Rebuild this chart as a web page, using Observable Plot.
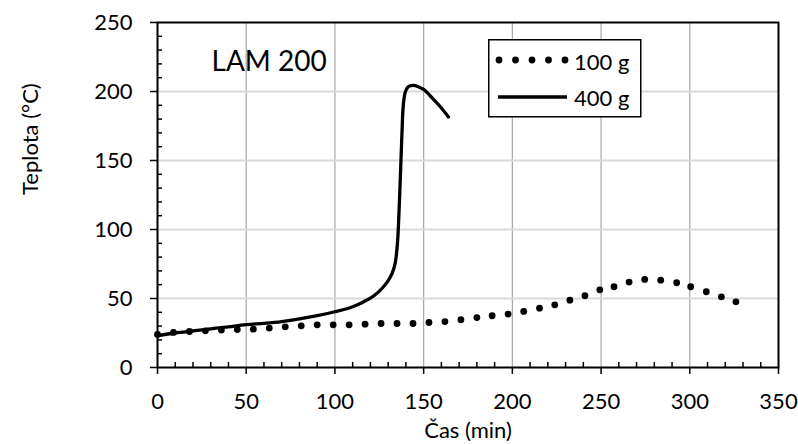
<!DOCTYPE html>
<html><head><meta charset="utf-8">
<script src="https://cdn.jsdelivr.net/npm/d3@7"></script>
<script src="https://cdn.jsdelivr.net/npm/@observablehq/plot@0.6"></script>
<style>
body{margin:0;background:#fff;font-family:Lato,sans-serif;}
#wrap{position:relative;width:798px;height:444px;}
#legend{position:absolute;left:488px;top:39px;}
</style></head><body><div id="wrap"></div>
<script>
// 100 g series (dotted)
const time100 = [0, 9, 18, 27, 36, 45, 54, 63, 72, 81, 90, 99, 108, 117, 126, 135, 144, 153, 162, 171, 180, 188.6, 197.6, 206.4, 215.3, 223.9, 232.4, 240.9, 249.3, 257.3, 265.8, 274.6, 283.6, 292.6, 300.5, 309.3, 317.8, 326];
const temp100 = [24, 25.4, 26.1, 26.6, 27.1, 27.5, 27.8, 28.6, 29.5, 30.2, 30.9, 30.9, 30.9, 31.4, 31.9, 31.9, 31.9, 32.6, 33.3, 34.6, 36.2, 37.5, 38.7, 40.6, 43, 45.4, 48.8, 52, 56.3, 58.5, 61.9, 63.8, 63.3, 61.4, 58.5, 54.9, 51.2, 47.6];
// 400 g series (solid)
const time400 = [0, 10, 20, 30, 40, 50, 60, 70, 80, 90, 100, 110, 116, 122, 127, 130.5, 133, 134.5, 135.5, 136.5, 137.5, 138.3, 139.2, 140.5, 142, 144, 147, 150, 155, 160, 164];
const temp400 = [23, 25, 26.5, 28, 29.5, 31, 32, 33.3, 35.2, 37.6, 40.4, 44, 47.5, 52, 58, 64, 71, 80, 95, 125, 160, 186, 197, 202, 204, 204.5, 203.5, 201.5, 195, 188, 181.5];

const xTicks = [0, 50, 100, 150, 200, 250, 300, 350];
const yTicks = [0, 50, 100, 150, 200, 250];
const xMinor = d3.range(0, 351, 10).filter(v => v % 50 !== 0);
const yMinor = d3.range(0, 251, 10).filter(v => v % 50 !== 0);
const xGrid = xTicks.filter(v => v > 0 && v < 350);
const yGrid = yTicks.filter(v => v > 0 && v < 250);

const d100 = time100.map((t, i) => ({t, v: temp100[i]}));
const d400 = time400.map((t, i) => ({t, v: temp400[i]}));

const chart = Plot.plot({
  width: 798, height: 444,
  marginLeft: 157, marginRight: 20, marginTop: 22, marginBottom: 77,
  x: {domain: [0, 350], label: null},
  y: {domain: [0, 250], label: null},
  style: {fontFamily: "Lato", fontSize: "22px", color: "#000", background: "#fff"},
  marks: [
    Plot.gridX(xGrid, {stroke: "#a6a6a6", strokeOpacity: 1, strokeWidth: 1.2}),
    Plot.gridY(yGrid, {stroke: "#d9d9d9", strokeOpacity: 1, strokeWidth: 2}),
    Plot.frame({stroke: "#000", strokeWidth: 2}),
    Plot.axisX(xMinor, {tickSize: -5, tickFormat: () => "", strokeWidth: 1.5, label: null}),
    Plot.axisX(xTicks, {tickSize: 7, tickPadding: 19, strokeWidth: 1.5, label: null, fontSize: 22}),
    Plot.axisY(yMinor, {tickSize: -5, tickFormat: () => "", strokeWidth: 1.5, label: null}),
    Plot.axisY(yTicks, {tickSize: 7, tickPadding: 18, strokeWidth: 1.5, label: null, fontSize: 22}),
    Plot.line(d400, {x: "t", y: "v", stroke: "#000", strokeWidth: 3.3, curve: "monotone-x"}),
    Plot.dot(d100, {x: "t", y: "v", r: 3.4, fill: "#000", stroke: null}),
    Plot.text(["LAM 200"], {frameAnchor: "top-left", dx: 54, dy: 29, textAnchor: "start", fontSize: 28}),
    Plot.text(["Čas (min)"], {frameAnchor: "bottom", dy: 70, fontSize: 22}),
    Plot.text(["Teplota (°C)"], {frameAnchor: "left", dx: -127, rotate: -90, fontSize: 22})
  ]
});
const wrap = document.getElementById("wrap");
wrap.appendChild(chart);

// legend
const ns = "http://www.w3.org/2000/svg";
const lg = document.createElementNS(ns, "svg");
lg.setAttribute("id", "legend");
lg.setAttribute("width", 154);
lg.setAttribute("height", 79);
lg.innerHTML = `
<rect x="0.75" y="0.75" width="152" height="77" fill="#fff" stroke="#000" stroke-width="1.5"/>
${[11, 27.5, 44, 60.5, 77].map(x => `<circle cx="${x}" cy="21" r="3.4" fill="#000"/>`).join("")}
<line x1="10" y1="58" x2="79" y2="58" stroke="#000" stroke-width="3.3"/>
<text x="86" y="22" dominant-baseline="central" font-family="Lato" font-size="22">100 g</text>
<text x="86" y="58" dominant-baseline="central" font-family="Lato" font-size="22">400 g</text>`;
wrap.appendChild(lg);
</script></body></html>
